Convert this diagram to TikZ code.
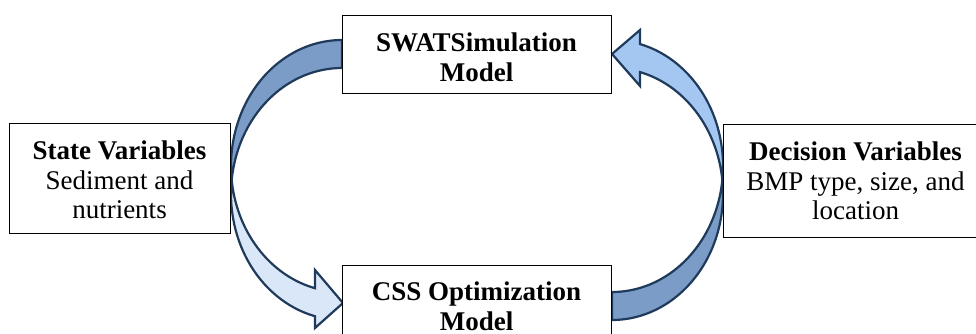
\documentclass[tikz,border=0pt]{standalone}
\usepackage{fontspec}
\setmainfont{Liberation Serif}
\definecolor{bandDark}{HTML}{7B9CC6}
\definecolor{leftLight}{HTML}{DAE7F8}
\definecolor{rightLight}{HTML}{A4C7F2}
\definecolor{outlineBlue}{HTML}{1F3A5A}
\newcommand\topstrut[1]{\rule{0pt}{#1pt}}
\begin{document}
\begin{tikzpicture}[x=1pt,y=-1pt,
  boxnode/.style={draw=black, line width=0.9pt, fill=white, inner sep=0pt,
    align=center, font=\fontsize{27}{29.5}\selectfont},
  bandshape/.style={draw=outlineBlue, line width=2.2pt, line join=miter}]
\useasboundingbox (0,0) rectangle (976,334);
\clip (0,0) rectangle (976,334);
% left curved arrow (from simulation model down to optimization model)
\draw[bandshape, fill=bandDark]
  plot[domain=90:186.38, samples=60] ({342+111*cos(\x)},{166-126*sin(\x)})
  -- plot[domain=173.62:90, samples=60] ({342+111*cos(\x)},{194-126*sin(\x)})
  -- cycle;
\draw[bandshape, fill=leftLight]
  plot[domain=173.62:255.92, samples=60] ({342+111*cos(\x)},{194-126*sin(\x)})
  -- (315,328) -- (343,303) -- (315,270)
  -- plot[domain=255.92:186.38, samples=60] ({342+111*cos(\x)},{166-126*sin(\x)})
  -- cycle;
% right curved arrow (from optimization model up to simulation model)
\draw[bandshape, fill=bandDark]
  plot[domain=-90:6.38, samples=60] ({612+111*cos(\x)},{194-126*sin(\x)})
  -- plot[domain=-6.38:-90, samples=60] ({612+111*cos(\x)},{166-126*sin(\x)})
  -- cycle;
\draw[bandshape, fill=rightLight]
  plot[domain=-6.38:75.39, samples=60] ({612+111*cos(\x)},{166-126*sin(\x)})
  -- (640,30) -- (612,54) -- (640,86)
  -- plot[domain=75.39:6.38, samples=60] ({612+111*cos(\x)},{194-126*sin(\x)})
  -- cycle;
% boxes
\node[boxnode, minimum width=269pt, minimum height=78pt] (sim) at (476.5,54)
  {\topstrut{25.5}\textbf{SWATSimulation}\\\textbf{Model}};
\node[boxnode, minimum width=269pt, minimum height=78pt] (opt) at (476.5,304)
  {\topstrut{23}\textbf{CSS Optimization}\\\textbf{Model}};
\node[boxnode, minimum width=221pt, minimum height=110pt] (state) at (119.5,178)
  {\topstrut{23}\textbf{State Variables}\\Sediment and\\nutrients};
\node[boxnode, minimum width=265pt, minimum height=113pt] (dec) at (855.5,180.5)
  {\topstrut{20}\textbf{Decision Variables}\\BMP type, size, and\\location};
\end{tikzpicture}
\end{document}
